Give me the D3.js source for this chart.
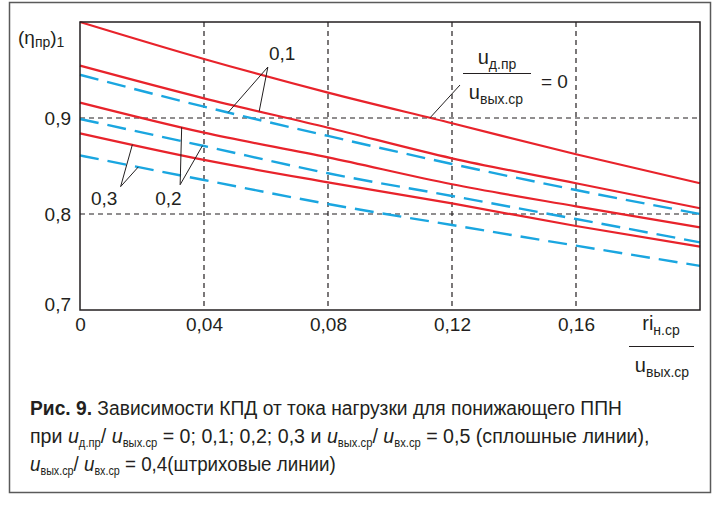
<!DOCTYPE html>
<html>
<head>
<meta charset="utf-8">
<script src="https://cdn.jsdelivr.net/npm/d3@7"></script>
<style>
  html, body { margin: 0; padding: 0; background: #fff; }
  svg { display: block; }
  text { font-family: "Liberation Sans", Arial, sans-serif; fill: #231f20; }
</style>
</head>
<body>
<svg id="chart" width="717" height="506"></svg>
<script>
// Relative load current ri_н.ср / u_вых.ср
const loadRatio = [0, 0.04, 0.08, 0.12, 0.16, 0.2];

// Efficiency (η_пр)_1, u_вых.ср/u_вх.ср = 0,5 (solid), per u_д.пр/u_вых.ср
const solid00 = [1.000, 0.9615, 0.9264, 0.8945, 0.8622, 0.832];
const solid01 = [0.9545, 0.9205, 0.8899, 0.8580, 0.8320, 0.806];
const solid02 = [0.916, 0.8847, 0.8590, 0.8310, 0.8080, 0.786];
const solid03 = [0.884, 0.8563, 0.8330, 0.8110, 0.7875, 0.766];

// Efficiency, u_вых.ср/u_вх.ср = 0,4 (dashed)
const dashed01 = [0.945, 0.9118, 0.8813, 0.8521, 0.8250, 0.800];
const dashed02 = [0.899, 0.8708, 0.8424, 0.8188, 0.7948, 0.7705];
const dashed03 = [0.861, 0.8354, 0.8104, 0.7885, 0.7670, 0.746];

const xTicks = [0, 0.04, 0.08, 0.12, 0.16];
const xTickLabels = ["0", "0,04", "0,08", "0,12", "0,16"];
const yTicks = [0.7, 0.8, 0.9];
const yTickLabels = ["0,7", "0,8", "0,9"];

const RED = "#e8232b";
const BLUE = "#1aa6e0";

const svg = d3.select("#chart");
const plot = { left: 80, top: 22, right: 700, bottom: 310 };

const x = d3.scaleLinear().domain([0, 0.2]).range([plot.left, plot.right]);
const y = d3.scaleLinear().domain([0.7, 1.0]).range([plot.bottom, plot.top]);

// outer frame
svg.append("rect")
  .attr("x", 9.5).attr("y", 2.5).attr("width", 701).attr("height", 490)
  .attr("fill", "none").attr("stroke", "#5a5a5a").attr("stroke-width", 1.5);

// grid
const grid = svg.append("g").attr("stroke", "#231f20").attr("stroke-width", 1.2)
  .attr("stroke-dasharray", "5,4");
grid.selectAll("line.gx").data(xTicks.filter(d => d > 0)).join("line")
  .attr("x1", d => x(d)).attr("x2", d => x(d))
  .attr("y1", plot.top).attr("y2", plot.bottom);
grid.selectAll("line.gy").data(yTicks.filter(d => d > 0.7)).join("line")
  .attr("x1", plot.left).attr("x2", plot.right)
  .attr("y1", d => y(d)).attr("y2", d => y(d));

// curves
const line = d3.line()
  .x((d, i) => x(loadRatio[i]))
  .y(d => y(d))
  .curve(d3.curveMonotoneX);

const solidSeries = [solid00, solid01, solid02, solid03];
const dashedSeries = [dashed01, dashed02, dashed03];

svg.append("g").selectAll("path").data(dashedSeries).join("path")
  .attr("d", line).attr("fill", "none").attr("stroke", BLUE)
  .attr("stroke-width", 2.4).attr("stroke-dasharray", "19,9");
svg.append("g").selectAll("path").data(solidSeries).join("path")
  .attr("d", line).attr("fill", "none").attr("stroke", RED)
  .attr("stroke-width", 2.2);

// plot frame
svg.append("rect")
  .attr("x", plot.left).attr("y", plot.top)
  .attr("width", plot.right - plot.left).attr("height", plot.bottom - plot.top)
  .attr("fill", "none").attr("stroke", "#231f20").attr("stroke-width", 1.5);

// axes
const xAxis = svg.append("g").attr("transform", `translate(0,${plot.bottom})`)
  .call(d3.axisBottom(x).tickValues(xTicks).tickSize(0).tickPadding(8)
    .tickFormat((d, i) => xTickLabels[i]));
const yAxis = svg.append("g").attr("transform", `translate(${plot.left},0)`)
  .call(d3.axisLeft(y).tickValues(yTicks).tickSize(0).tickPadding(9)
    .tickFormat((d, i) => yTickLabels[i]));
[xAxis, yAxis].forEach(a => {
  a.select(".domain").remove();
  a.selectAll("text").attr("font-size", 19)
    .attr("font-family", "'Liberation Sans', Arial, sans-serif").attr("fill", "#231f20");
});
yAxis.selectAll(".tick").filter(d => d === 0.7).select("text").attr("dy", "0.0em");

// value of a curve at a given load ratio (linear between table points)
function at(series, v) {
  const i = Math.min(loadRatio.length - 2, Math.max(0, d3.bisectRight(loadRatio, v) - 1));
  const t = (v - loadRatio[i]) / (loadRatio[i + 1] - loadRatio[i]);
  return series[i] + t * (series[i + 1] - series[i]);
}

// leader lines and curve labels
const leaders = [
  { text: "0,1", tx: 0.0652, ty: 0.9602, vx: 0.0606, vy: 0.9531,
    ends: [[dashed01, 0.0478], [solid01, 0.0578]] },
  { text: "0,2", tx: 0.0285, ty: 0.8094, vx: 0.0323, vy: 0.8305,
    ends: [[solid02, 0.0328], [dashed02, 0.0395]] },
  { text: "0,3", tx: 0.0078, ty: 0.8094, vx: 0.0131, vy: 0.8285,
    ends: [[solid03, 0.0169], [dashed03, 0.0188]] }
];
const ann = svg.append("g");
leaders.forEach(l => {
  l.ends.forEach(([s, v]) => {
    ann.append("line")
      .attr("x1", x(l.vx)).attr("y1", y(l.vy))
      .attr("x2", x(v)).attr("y2", y(at(s, v)))
      .attr("stroke", "#231f20").attr("stroke-width", 1);
  });
  ann.append("text").attr("x", x(l.tx)).attr("y", y(l.ty))
    .attr("text-anchor", "middle").attr("font-size", 19).text(l.text);
});

// u_д.пр / u_вых.ср = 0 label for the top curve
ann.append("line")
  .attr("x1", 460).attr("y1", 85)
  .attr("x2", x(0.1129)).attr("y2", y(at(solid00, 0.1129)))
  .attr("stroke", "#231f20").attr("stroke-width", 1);

function fracPart(g, cx, base, main, sub, size, subSize) {
  const t = g.append("text").attr("x", cx).attr("y", base)
    .attr("text-anchor", "middle").attr("font-size", size);
  t.append("tspan").text(main);
  t.append("tspan").attr("font-size", subSize).attr("dy", 5).text(sub);
  return t;
}
fracPart(ann, 497, 64, "u", "д.пр", 20, 14);
ann.append("line").attr("x1", 463).attr("x2", 531).attr("y1", 73.5).attr("y2", 73.5)
  .attr("stroke", "#231f20").attr("stroke-width", 1.2);
fracPart(ann, 496, 99, "u", "вых.ср", 20, 14);
ann.append("text").attr("x", 541).attr("y", 88).attr("font-size", 19).text("= 0");

// axis titles
const yTitle = svg.append("text").attr("x", 18).attr("y", 44).attr("font-size", 19);
yTitle.append("tspan").text("(η");
yTitle.append("tspan").attr("font-size", 14).attr("dy", 3).text("пр");
yTitle.append("tspan").attr("dy", -3).text(")");
yTitle.append("tspan").attr("font-size", 14).attr("dy", 3).text("1");

fracPart(svg, 661, 330, "ri", "н.ср", 20, 14);
svg.append("line").attr("x1", 629).attr("x2", 694).attr("y1", 346.5).attr("y2", 346.5)
  .attr("stroke", "#231f20").attr("stroke-width", 1.2);
fracPart(svg, 662, 372, "u", "вых.ср", 20, 14);

// caption
const capLines = [
  { base: 415, width: 592, parts: [
    { t: "Рис. 9.", b: true }, { t: " Зависимости КПД от тока нагрузки для понижающего ППН" }] },
  { base: 443, width: 620, parts: [
    { t: "при " }, { t: "u", i: true }, { t: "д.пр", s: true }, { t: "/ " },
    { t: "u", i: true }, { t: "вых.ср", s: true },
    { t: " = 0; 0,1; 0,2; 0,3 и " }, { t: "u", i: true }, { t: "вых.ср", s: true },
    { t: "/ " }, { t: "u", i: true }, { t: "вх.ср", s: true },
    { t: " = 0,5 (сплошные линии)," }] },
  { base: 471, width: 306, parts: [
    { t: "u", i: true }, { t: "вых.ср", s: true }, { t: "/ " },
    { t: "u", i: true }, { t: "вх.ср", s: true }, { t: " = 0,4(штриховые линии)" }] }
];
const capFont = "'Liberation Sans Narrow', 'DejaVu Sans Condensed', 'Liberation Sans', sans-serif";
capLines.forEach(cl => {
  const g = svg.append("g");
  const t = g.append("text").attr("x", 0).attr("y", 0)
    .attr("font-family", capFont).attr("font-size", 21).attr("fill", "#231f20");
  let down = false;
  cl.parts.forEach(p => {
    const s = t.append("tspan").text(p.t);
    if (p.b) s.attr("font-weight", "bold").attr("font-family", "'Liberation Sans', Arial, sans-serif");
    if (p.i) s.attr("font-style", "italic");
    if (p.s) { s.attr("font-size", 12).attr("dy", 4); down = true; }
    else if (down) { s.attr("dy", -4); down = false; }
  });
  const w = t.node().getComputedTextLength();
  g.attr("transform", `translate(30,${cl.base}) scale(${cl.width / w},1)`);
});
</script>
</body>
</html>
